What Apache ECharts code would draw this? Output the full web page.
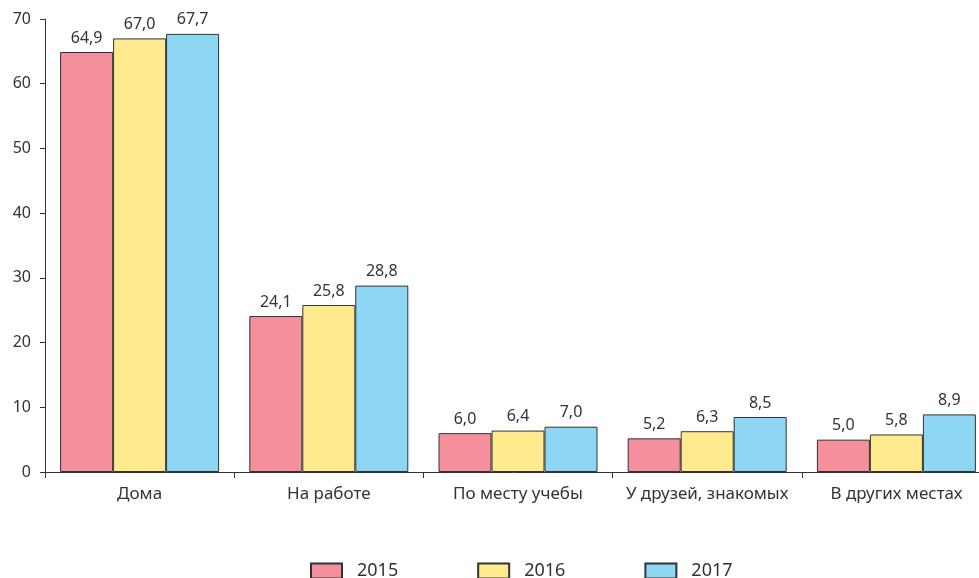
<!DOCTYPE html>
<html>
<head>
<meta charset="utf-8">
<script src="https://cdn.jsdelivr.net/npm/echarts@6/dist/echarts.min.js"></script>
<style>
html,body{margin:0;padding:0;background:#fff;}
#chart{width:979px;height:578px;}
</style>
</head>
<body>
<div id="chart"></div>
<script>
const categories = ['Дома', 'На работе', 'По месту учебы', 'У друзей, знакомых', 'В других местах'];
const years = ['2015', '2016', '2017'];
const values2015 = [64.9, 24.1, 6.0, 5.2, 5.0];
const values2016 = [67.0, 25.8, 6.4, 6.3, 5.8];
const values2017 = [67.7, 28.8, 7.0, 8.5, 8.9];
const yTicks = [0, 10, 20, 30, 40, 50, 60, 70];

const colors = ['#F48F9B', '#FFEA8E', '#8DD7F5'];
const FONT = '"Noto Sans", "Open Sans", sans-serif';
const textColor = '#333333';

const chart = echarts.init(document.getElementById('chart'), null, {renderer: 'canvas'});

function mk(name, data, color) {
  return {
    name: name,
    type: 'bar',
    data: data,
    barWidth: 53,
    barGap: '0%',
    itemStyle: {color: color, borderColor: '#333333', borderWidth: 1},
    label: {
      show: true,
      position: 'top',
      distance: 6,
      color: textColor,
      fontFamily: FONT,
      fontSize: 16,
      formatter: p => p.value.toFixed(1).replace('.', ',')
    }
  };
}

chart.setOption({
  animation: false,
  backgroundColor: '#ffffff',
  textStyle: {fontFamily: FONT},
  grid: {left: 45, top: 19, bottom: 106, width: 946, containLabel: false, outerBoundsMode: 'none'},
  legend: {
    data: years,
    icon: 'rect',
    top: 557,
    left: 305,
    itemWidth: 31,
    itemHeight: 15,
    itemGap: 79,
    textStyle: {color: textColor, fontFamily: FONT, fontSize: 18, padding: [0, 0, 0, 10]},
  },
  xAxis: {
    type: 'category',
    data: categories,
    axisLine: {lineStyle: {color: '#333333', width: 1}},
    axisTick: {show: true, length: 6, interval: 0, alignWithLabel: false, lineStyle: {color: '#333333'}},
    axisLabel: {color: textColor, fontFamily: FONT, fontSize: 17, margin: 14, interval: 0}
  },
  yAxis: {
    type: 'value',
    min: yTicks[0],
    max: yTicks[yTicks.length - 1],
    interval: 10,
    axisLine: {show: true, lineStyle: {color: '#333333', width: 1}},
    axisTick: {show: true, length: 5, lineStyle: {color: '#333333'}},
    splitLine: {show: false},
    axisLabel: {color: textColor, fontFamily: FONT, fontSize: 16, margin: 14}
  },
  series: [
    mk(years[0], values2015, colors[0]),
    mk(years[1], values2016, colors[1]),
    mk(years[2], values2017, colors[2])
  ]
});
</script>
</body>
</html>
